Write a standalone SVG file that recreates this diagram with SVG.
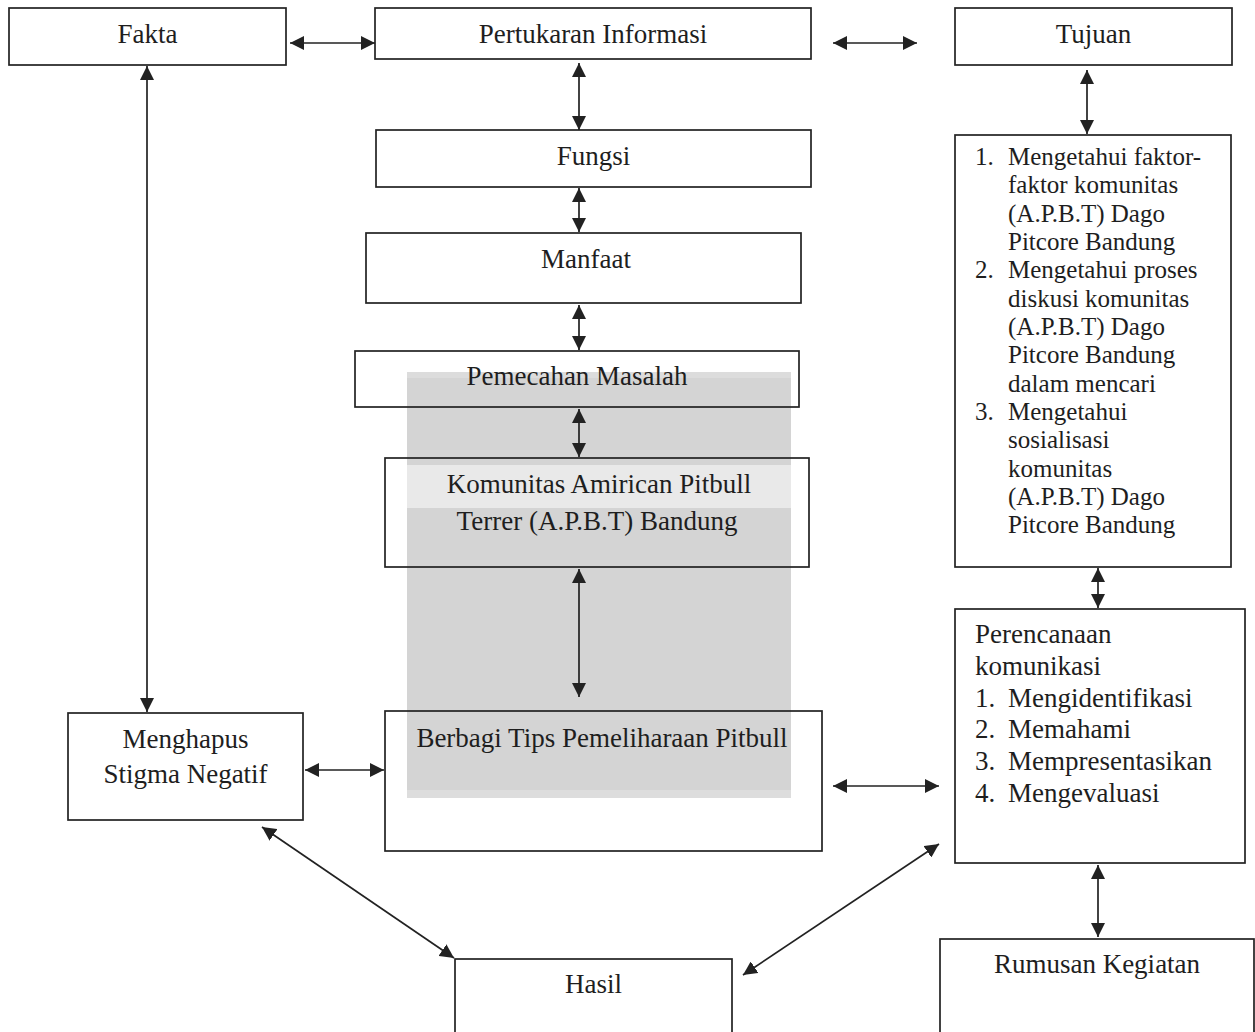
<svg xmlns="http://www.w3.org/2000/svg" width="1255" height="1032" viewBox="0 0 1255 1032">
<style>
  .box { fill: none; stroke: #222; stroke-width: 1.7; }
  .t { font-family: "Liberation Serif", "Times New Roman", serif; font-size: 27px; fill: #1e1e1e; }
  .c { text-anchor: middle; }
  .s { font-size: 25px; }
  .con line { stroke: #222; stroke-width: 1.7; marker-start: url(#ah); marker-end: url(#ah); }
</style>
<defs>
  <marker id="ah" viewBox="0 0 14 14" refX="14" refY="7" markerWidth="14" markerHeight="14" markerUnits="userSpaceOnUse" orient="auto-start-reverse">
    <path d="M0,0 L14,7 L0,14 z" fill="#222"/>
  </marker>
</defs>
<rect width="1255" height="1032" fill="#ffffff"/>
<g id="shade">
  <rect x="407" y="372" width="384" height="6" fill="#dcdcdc"/>
  <rect x="407" y="378" width="384" height="87" fill="#d4d4d4"/>
  <rect x="407" y="465" width="384" height="43" fill="#e9e9e9"/>
  <rect x="407" y="508" width="384" height="282" fill="#d4d4d4"/>
  <rect x="407" y="790" width="384" height="8" fill="#dddddd"/>
</g>
<g id="fakta"><rect class="box" x="9" y="8" width="277" height="57"/><text class="t c" x="147.5" y="43">Fakta</text></g>
<g id="pertukaran"><rect class="box" x="375" y="8" width="436" height="51"/><text class="t c" x="593" y="43">Pertukaran Informasi</text></g>
<g id="tujuan"><rect class="box" x="955" y="8" width="277" height="57"/><text class="t c" x="1093.5" y="43">Tujuan</text></g>
<g id="fungsi"><rect class="box" x="376" y="130" width="435" height="57"/><text class="t c" x="593.5" y="165">Fungsi</text></g>
<g id="manfaat"><rect class="box" x="366" y="233" width="435" height="70"/><text class="t c" x="586" y="268">Manfaat</text></g>
<g id="pemecahan"><rect class="box" x="355" y="351" width="444" height="56"/><text class="t c" x="577" y="385">Pemecahan Masalah</text></g>
<g id="komunitas"><rect class="box" x="385" y="458" width="424" height="109"/><text class="t c" x="599" y="493">Komunitas Amirican Pitbull</text><text class="t c" x="597" y="530">Terrer (A.P.B.T) Bandung</text></g>
<g id="berbagi"><rect class="box" x="385" y="711" width="437" height="140"/><text class="t c" x="602" y="747">Berbagi Tips Pemeliharaan Pitbull</text></g>
<g id="menghapus"><rect class="box" x="68" y="713" width="235" height="107"/><text class="t c" x="185.5" y="748">Menghapus</text><text class="t c" x="185.5" y="783">Stigma Negatif</text></g>
<g id="hasil"><rect class="box" x="455" y="959" width="277" height="90"/><text class="t c" x="593.5" y="993">Hasil</text></g>
<g id="rumusan"><rect class="box" x="940" y="939" width="314" height="110"/><text class="t c" x="1097" y="973">Rumusan Kegiatan</text></g>
<g id="tujuan-list">
  <rect class="box" x="955" y="135" width="276" height="432"/>
  <text class="t s" x="975" y="165">1.</text><text class="t s" x="1008" y="165">Mengetahui faktor-</text>
  <text class="t s" x="1008" y="193">faktor komunitas</text>
  <text class="t s" x="1008" y="222">(A.P.B.T) Dago</text>
  <text class="t s" x="1008" y="250">Pitcore Bandung</text>
  <text class="t s" x="975" y="278">2.</text><text class="t s" x="1008" y="278">Mengetahui proses</text>
  <text class="t s" x="1008" y="307">diskusi komunitas</text>
  <text class="t s" x="1008" y="335">(A.P.B.T) Dago</text>
  <text class="t s" x="1008" y="363">Pitcore Bandung</text>
  <text class="t s" x="1008" y="392">dalam mencari</text>
  <text class="t s" x="975" y="420">3.</text><text class="t s" x="1008" y="420">Mengetahui</text>
  <text class="t s" x="1008" y="448">sosialisasi</text>
  <text class="t s" x="1008" y="477">komunitas</text>
  <text class="t s" x="1008" y="505">(A.P.B.T) Dago</text>
  <text class="t s" x="1008" y="533">Pitcore Bandung</text>
</g>
<g id="perencanaan">
  <rect class="box" x="955" y="609" width="290" height="254"/>
  <text class="t" x="975" y="643">Perencanaan</text>
  <text class="t" x="975" y="675">komunikasi</text>
  <text class="t" x="975" y="707">1.</text><text class="t" x="1008" y="707">Mengidentifikasi</text>
  <text class="t" x="975" y="738">2.</text><text class="t" x="1008" y="738">Memahami</text>
  <text class="t" x="975" y="770">3.</text><text class="t" x="1008" y="770">Mempresentasikan</text>
  <text class="t" x="975" y="802">4.</text><text class="t" x="1008" y="802">Mengevaluasi</text>
</g>
<g id="connectors" class="con">
  <line x1="290" y1="43" x2="375" y2="43"/>
  <line x1="833" y1="43" x2="917" y2="43"/>
  <line x1="579" y1="63" x2="579" y2="130"/>
  <line x1="579" y1="188" x2="579" y2="232"/>
  <line x1="579" y1="305" x2="579" y2="350"/>
  <line x1="579" y1="409" x2="579" y2="457"/>
  <line x1="579" y1="569" x2="579" y2="697"/>
  <line x1="1087" y1="70" x2="1087" y2="134"/>
  <line x1="1098" y1="568" x2="1098" y2="608"/>
  <line x1="1098" y1="865" x2="1098" y2="937"/>
  <line x1="147" y1="66" x2="147" y2="712"/>
  <line x1="305" y1="770" x2="384" y2="770"/>
  <line x1="833" y1="786" x2="939" y2="786"/>
  <line x1="262" y1="827" x2="454" y2="958"/>
  <line x1="939" y1="844" x2="743" y2="975"/>
</g>
</svg>
